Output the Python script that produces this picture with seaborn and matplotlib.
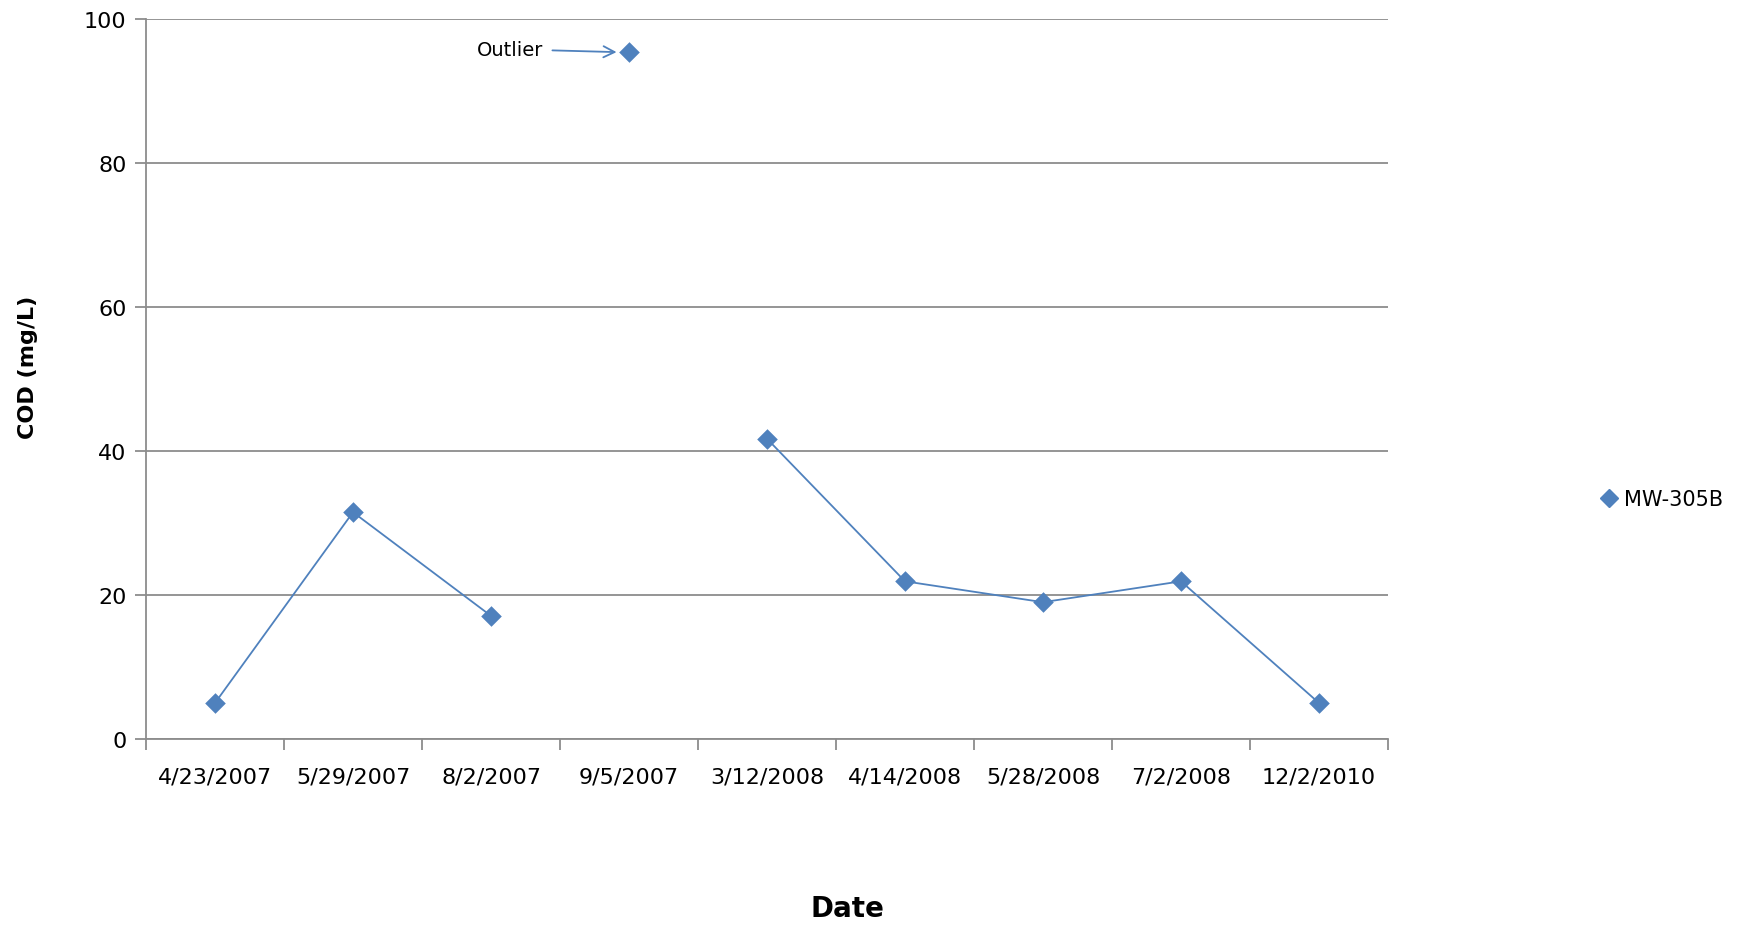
import numpy as np
import pandas as pd
import matplotlib
matplotlib.use('Agg')
import matplotlib.pyplot as plt
import seaborn as sns
from matplotlib.lines import Line2D

# data
dates = ['4/23/2007', '5/29/2007', '8/2/2007', '9/5/2007', '3/12/2008',
         '4/14/2008', '5/28/2008', '7/2/2008', '12/2/2010']
cod = [5.0, 31.5, 17.1, 95.4, 41.7, 21.9, 19.0, 21.9, 5.0]
# line segments (outlier not joined)
segment = [1, 1, 1, 0, 2, 2, 2, 2, 2]
series_name = 'MW-305B'

blue = '#4F81BD'
grey = '#8C8C8C'

sns.set_theme(style='white')
plt.rcParams['font.family'] = ['DejaVu Sans']
plt.rcParams['text.color'] = 'black'
plt.rcParams['xtick.color'] = 'black'
plt.rcParams['ytick.color'] = 'black'

df = pd.DataFrame({'date': dates, 'cod': cod, 'segment': segment})
df['pos'] = np.arange(len(df))
lineDf = df[df.segment > 0]

fig = plt.figure(figsize=(17.42, 9.28), dpi=100)
ax = fig.add_axes([146/1742, 1 - 740/928, (1388 - 146)/1742, (740 - 20)/928])

sns.lineplot(data=lineDf, x='pos', y='cod', units='segment', estimator=None,
             color=blue, linewidth=1.3, legend=False, ax=ax)
sns.scatterplot(data=df, x='pos', y='cod', marker='D', s=110, color=blue,
                edgecolor=blue, linewidth=0, ax=ax, zorder=5)

ax.set_xlim(-0.5, len(dates) - 0.5)
ax.set_ylim(0, 100)
ax.set_yticks(range(0, 101, 20))
ax.yaxis.grid(True, color=grey, linewidth=1.3)
ax.set_axisbelow(True)

ax.set_xticks(range(len(dates)))
ax.set_xticklabels(dates, fontsize=16)
ax.set_xticks(np.arange(-0.5, len(dates), 1), minor=True)
ax.tick_params(axis='x', which='major', length=0, pad=20, bottom=True)
ax.tick_params(axis='x', which='minor', length=8, width=1.3, color=grey,
               direction='out', bottom=True)
ax.tick_params(axis='y', which='major', length=8, width=1.3, color=grey,
               direction='out', labelsize=16, pad=6, left=True, labelcolor='black')

for s in ['top', 'right']:
    ax.spines[s].set_visible(False)
for s in ['left', 'bottom']:
    ax.spines[s].set_color(grey)
    ax.spines[s].set_linewidth(1.3)

ax.set_xlabel('')
ax.set_ylabel('')
fig.text(28/1742, 1 - 367/928, 'COD (mg/L)', rotation=90, ha='center', va='center',
         fontsize=16, fontweight='bold')
fig.text(847/1742, 1 - 909/928, 'Date', ha='center', va='center',
         fontsize=20, fontweight='bold')

ax.annotate('Outlier', xy=(3 - 0.09, cod[3]), xytext=(1.9, cod[3] + 0.4),
            ha='left', va='center', fontsize=14,
            arrowprops=dict(arrowstyle='->', color=blue, lw=1.3,
                            shrinkA=4, shrinkB=0, mutation_scale=20))

handle = Line2D([], [], marker='D', color=blue, linestyle='none', markersize=9)
fig.legend([handle], [series_name], loc='center left', bbox_to_anchor=(1580/1742, 1 - 500/928),
           frameon=False, fontsize=15, handletextpad=0.2, handlelength=1.0)

plt.savefig('out.png', dpi=100)
